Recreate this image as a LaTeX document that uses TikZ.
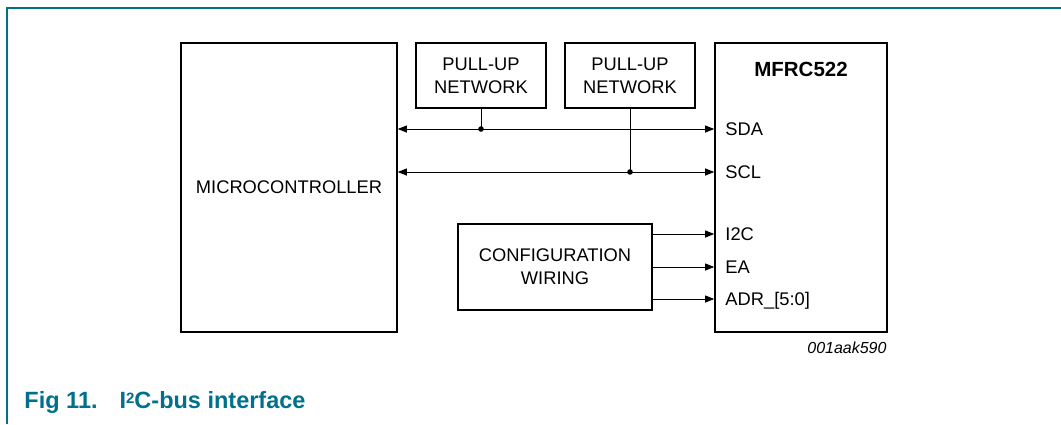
\documentclass[tikz,border=0pt]{standalone}
\usepackage{fontspec}
\setmainfont{Liberation Sans}
\usetikzlibrary{arrows.meta}
\definecolor{nxpteal}{RGB}{0,112,140}

\begin{document}
\begin{tikzpicture}[x=1pt, y=-1pt, line width=0.9pt,
  >={Triangle[length=9pt,width=7pt]},
  blk/.style={draw, line width=1.6pt, inner sep=0pt, align=center,
    font=\fontsize{18.3}{23}\selectfont},
  pin/.style={anchor=west, inner sep=0pt, text height=13pt, text depth=0pt,
    font=\fontsize{18.3}{20}\selectfont}]
  \useasboundingbox (0,0) rectangle (1061,424);
  \draw[nxpteal, line width=1.5pt] (1061,8) -- (7,8) -- (7,424);
  % blocks
  \node (mcu) [blk, minimum width=216pt, minimum height=289pt] at (289,187.5) {MICROCONTROLLER};
  \node (pu1) [blk, minimum width=130pt, minimum height=65pt] at (481,75.5) {PULL-UP\\NETWORK};
  \node (pu2) [blk, minimum width=130pt, minimum height=65pt] at (630,75.5) {PULL-UP\\NETWORK};
  \node (mfrc) [blk, minimum width=172pt, minimum height=289pt] at (801,187.5) {};
  \node (cfg) [blk, minimum width=194pt, minimum height=86pt] at (555,267) {CONFIGURATION\\WIRING};
  \node [anchor=base, inner sep=0pt, font=\bfseries\fontsize{20.5}{22}\selectfont] at (801,76) {MFRC522};
  % pins
  \node (sda) [pin] at (725,129) {SDA};
  \node (scl) [pin] at (725,172) {SCL};
  \node (i2c) [pin] at (725,234) {I2C};
  \node (ea) [pin] at (725,267) {EA};
  \node (adr) [pin] at (725,299) {ADR\_[5:0]};
  \coordinate (j1) at (pu1 |- sda);
  \coordinate (j2) at (pu2 |- scl);
  % bus
  \path[<->]
  (mcu.east |- sda) edge (mfrc.west |- sda)
  (mcu.east |- scl) edge (mfrc.west |- scl);
  \draw (pu1) -- (j1) (pu2) -- (j2);
  \fill (j1) circle (2.8pt) (j2) circle (2.8pt);
  \path[->]
  (cfg.east |- i2c) edge (mfrc.west |- i2c)
  (cfg.east |- ea) edge (mfrc.west |- ea)
  (cfg.east |- adr) edge (mfrc.west |- adr);
  % caption
  \node [anchor=base east, inner sep=0pt, font=\itshape\fontsize{16}{18}\selectfont] at (887,353) {001aak590};
  \node (cap) [anchor=base west, inner sep=0pt, text=nxpteal, font=\bfseries\fontsize{23.5}{26}\selectfont]
  at (24,408) {Fig 11.\hspace{22pt}I\raisebox{5pt}{\fontsize{15}{16}\selectfont 2}C-bus interface};
\end{tikzpicture}
\end{document}
